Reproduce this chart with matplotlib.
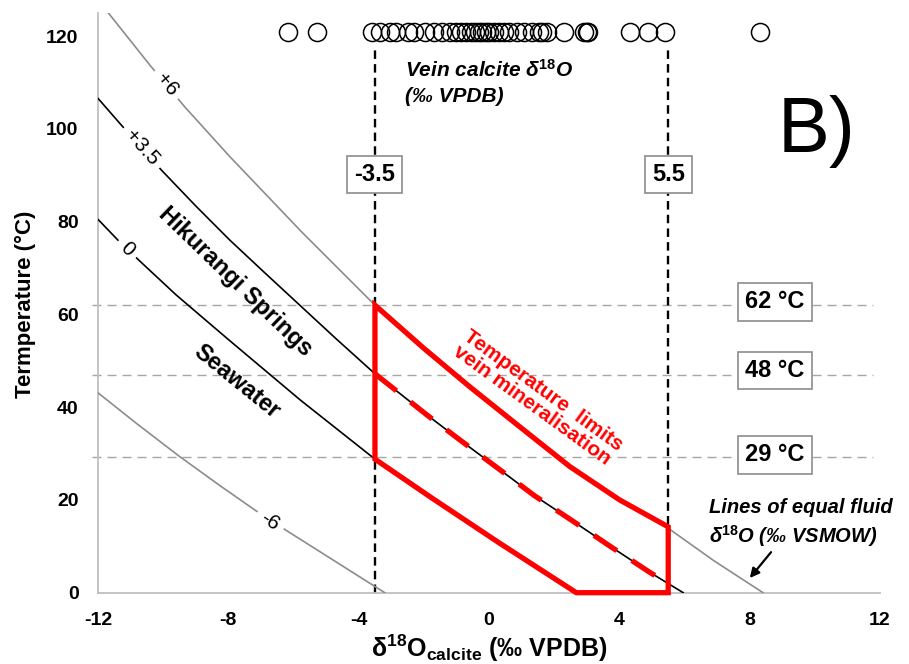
import matplotlib
matplotlib.use("Agg")
import matplotlib.pyplot as plt
import numpy as np
from matplotlib.patches import Polygon

plt.rcParams['font.family'] = ['Liberation Sans', 'DejaVu Sans']
plt.rcParams['mathtext.fontset'] = 'custom'
plt.rcParams['mathtext.rm'] = 'Liberation Sans'
plt.rcParams['mathtext.it'] = 'Liberation Sans:italic'
plt.rcParams['mathtext.bf'] = 'Liberation Sans:bold'
plt.rcParams['axes.unicode_minus'] = False

# ---------------- data ----------------
X_TICKS = [-12, -8, -4, 0, 4, 8, 12]
Y_TICKS = [0, 20, 40, 60, 80, 100, 120]

# lines of equal fluid d18O (x = d18O calcite VPDB, t = temperature degC)
P6_X = [-11.68, -10.40, -9.33, -7.95, -5.75, -3.50, -2.00, -0.59, 0.94, 2.48, 4.01, 5.44, 6.90, 8.41]
P6_T = [125.0, 113.7, 104.7, 94.0, 77.8, 62.0, 52.7, 44.4, 35.8, 27.2, 20.0, 14.2, 6.9, 0.0]

P35_X = [-12.0, -11.33, -10.05, -9.00, -7.95, -6.90, -5.90, -4.70, -3.50, -1.90, -0.81, 0.28, 1.40, 2.56, 3.72, 4.91, 5.96]
P35_T = [106.6, 101.2, 91.1, 83.4, 76.0, 69.1, 62.6, 54.8, 47.2, 38.3, 32.5, 26.8, 20.9, 15.5, 10.0, 4.5, 0.0]

Z0_X = [-12.0, -11.33, -10.70, -9.60, -8.00, -5.80, -3.50, -1.75, 0.30, 2.68]
Z0_T = [80.5, 75.6, 71.4, 64.2, 54.6, 41.6, 28.8, 20.4, 10.8, 0.0]

M6_X = [-12.0, -10.80, -9.54, -8.30, -7.18, -6.26, -5.00, -3.20]
M6_T = [43.1, 36.4, 29.6, 23.3, 17.8, 13.6, 8.0, 0.0]

CURVE_LABELS = ['+6', '+3.5', '0', '-6']
CURVE_LABEL_X = [-9.9, -10.66, -11.1, -6.72]
CURVE_LABEL_T = [109.5, 95.9, 74.1, 15.4]
CURVE_LABEL_ROT = [-50, -48, -44, -33]

# temperature-limit polygon (red)
RED_X = [-3.5, -2.00, -0.59, 0.94, 2.48, 4.01, 5.5, 5.5, 2.68, 0.30, -1.75, -3.5]
RED_T = [62.0, 52.7, 44.4, 35.8, 27.2, 20.0, 14.2, 0.0, 0.0, 10.8, 20.4, 28.8]

# red dashed line (Hikurangi Springs fluid)
RD_X = [-3.5, -1.90, -0.81, 0.28, 1.40, 2.56, 3.72, 4.91, 5.30]
RD_T = [47.2, 38.3, 32.5, 26.8, 20.9, 15.5, 10.0, 4.5, 2.8]

# vein calcite d18O values (plotted as a row of open circles)
VEIN_D18O = [-6.16, -5.29, -3.59, -3.33, -3.05, -2.85, -2.50, -2.30, -1.95, -1.70,
             -1.45, -1.20, -1.00, -0.85, -0.70, -0.55, -0.42, -0.30, -0.20, -0.10,
             -0.01, 0.15, 0.30, 0.45, 0.61, 0.86, 1.07, 1.32, 1.53, 1.63, 1.78,
             2.29, 2.91, 3.00, 3.05, 4.32, 4.88, 5.39, 8.31]
VEIN_ROW_T = 121

CALCITE_LIMITS = [-3.5, 5.5]
CALCITE_LIMIT_LABELS = ['-3.5', '5.5']
TEMP_LINES = [62.0, 47.0, 29.3]
TEMP_LABELS = ['62 °C', '48 °C', '29 °C']

# ---------------- figure ----------------
fig = plt.figure(figsize=(9.09, 6.64), dpi=100)
ax = fig.add_axes([0.1078, 0.1074, 0.8603, 0.873])
ax.set_xlim(-12, 12)
ax.set_ylim(0, 125)
ax.set_xticks(X_TICKS)
ax.set_yticks(Y_TICKS)
for s in ['top', 'right']:
    ax.spines[s].set_visible(False)
for s in ['left', 'bottom']:
    ax.spines[s].set_color('#BFBFBF')
    ax.spines[s].set_linewidth(1.3)
ax.tick_params(length=0, pad=14, labelsize=14)
for lbl in ax.get_xticklabels() + ax.get_yticklabels():
    lbl.set_fontweight('bold')

# horizontal dashed temperature lines
for t in TEMP_LINES:
    ax.plot([-12.18, 11.77], [t, t], color='#A6A6A6', lw=1.0, dashes=(6.5, 4.3),
            clip_on=False, zorder=1)

# vertical dashed calcite limits
for x in CALCITE_LIMITS:
    ax.plot([x, x], [0, 117.6], color='black', lw=1.7, dashes=(3.6, 2.2), zorder=2)

# fluid lines
ax.plot(P6_X, P6_T, color='#8C8C8C', lw=1.2, zorder=3)
ax.plot(P35_X, P35_T, color='black', lw=1.2, zorder=3)
ax.plot(Z0_X, Z0_T, color='black', lw=1.2, zorder=3)
ax.plot(M6_X, M6_T, color='#8C8C8C', lw=1.2, zorder=3)

for lab, x, t, r in zip(CURVE_LABELS, CURVE_LABEL_X, CURVE_LABEL_T, CURVE_LABEL_ROT):
    ax.text(x, t, lab, fontsize=15, rotation=r, rotation_mode='anchor',
            ha='center', va='center', zorder=4,
            bbox=dict(boxstyle='square,pad=0.3', fc='white', ec='none'))

ax.text(-7.77, 67.0, 'Hikurangi Springs', fontsize=17, fontweight='bold',
        rotation=-44, rotation_mode='anchor', ha='center', va='center', zorder=4)
ax.text(-7.75, 45.5, 'Seawater', fontsize=17, fontweight='bold',
        rotation=-39, rotation_mode='anchor', ha='center', va='center', zorder=4)

# red polygon and dashed line
poly = Polygon(np.column_stack([RED_X, RED_T]), closed=True, fill=False,
               edgecolor='#FF0000', lw=3.8, joinstyle='miter', clip_on=False, zorder=6)
ax.add_patch(poly)
ax.plot(RD_X, RD_T, color='#FF0000', lw=3.8, dashes=(5.2, 3.4), zorder=6)

ax.text(1.48, 42.0, 'Temperature  limits\nvein mineralisation', color='#FF0000',
        fontsize=15, fontweight='bold', rotation=-36, rotation_mode='anchor',
        ha='center', va='center', multialignment='center', linespacing=1.0, zorder=6)

# vein calcite row
ax.plot(VEIN_D18O, [VEIN_ROW_T] * len(VEIN_D18O), linestyle='none', marker='o',
        mfc='none', mec='black', ms=13, mew=1.1, clip_on=False, zorder=8)

# boxed labels
box = dict(boxstyle='square,pad=0.3', fc='white', ec='#8C8C8C', lw=1.2)
for x, lab in zip(CALCITE_LIMITS, CALCITE_LIMIT_LABELS):
    ax.text(x, 90.2, lab, fontsize=17, fontweight='bold', ha='center', va='center',
            bbox=box, zorder=7)
for t, lab in zip([62.7, 48.0, 29.7], TEMP_LABELS):
    ax.text(8.78, t, lab, fontsize=17, fontweight='bold', ha='center', va='center',
            bbox=box, zorder=7)

ax.text(-2.58, 110.1, 'Vein calcite δ$^{\\mathbf{18}}$O\n(‰ VPDB)', fontsize=15,
        fontweight='bold', style='italic', ha='left', va='center', linespacing=1.4,
        zorder=7)

ax.text(8.86, 95.0, 'B)', fontsize=56, ha='left', va='baseline', zorder=7)

ax.annotate('', xy=(7.95, 2.7), xytext=(8.71, 9.2),
            arrowprops=dict(arrowstyle='-|>', color='black', lw=1.6, mutation_scale=14),
            zorder=7)
ax.text(6.74, 15.0, 'Lines of equal fluid\nδ$^{\\mathbf{18}}$O (‰ VSMOW)', fontsize=14.5,
        fontweight='bold', style='italic', ha='left', va='center', linespacing=1.3,
        clip_on=False, zorder=7)

# axis labels
fig.text(0.0275, 0.5414, 'Termperature (°C)', rotation=90, fontsize=16,
         fontweight='bold', ha='center', va='center')
fig.text(0.5385, 0.0105, 'δ$^{\\mathbf{18}}$O$_{\\mathbf{calcite}}$ (‰ VPDB)', fontsize=18,
         fontweight='bold', ha='center', va='baseline')

fig.savefig('out.png', dpi=100)
